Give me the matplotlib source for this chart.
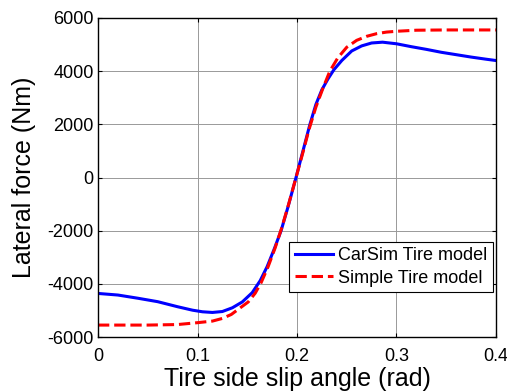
import matplotlib
matplotlib.use("Agg")
import matplotlib.pyplot as plt

# CarSim tire model
carsim_alpha = [0.000, 0.020, 0.040, 0.060, 0.080, 0.095, 0.105, 0.115, 0.125, 0.135,
                0.145, 0.155, 0.163, 0.170, 0.177, 0.184, 0.191, 0.199, 0.206, 0.213,
                0.219, 0.225, 0.231, 0.237, 0.245, 0.255, 0.265, 0.275, 0.286, 0.300,
                0.315, 0.330, 0.345, 0.360, 0.375, 0.390, 0.400]
carsim_fy = [-4360, -4420, -4540, -4670, -4860, -4990, -5050, -5075, -5040, -4900,
             -4680, -4330, -3880, -3350, -2700, -2000, -1100, 0, 1000, 2000,
             2750, 3300, 3700, 4050, 4400, 4760, 4950, 5060, 5090, 5030,
             4920, 4820, 4710, 4620, 4530, 4450, 4400]

# simple tire model
simple_alpha = [0.000, 0.050, 0.080, 0.100, 0.115, 0.125, 0.134, 0.143, 0.151, 0.158,
                0.164, 0.171, 0.178, 0.185, 0.192, 0.199, 0.206, 0.212, 0.219, 0.226,
                0.233, 0.241, 0.250, 0.260, 0.270, 0.280, 0.290, 0.300, 0.320, 0.350,
                0.400]
simple_fy = [-5550, -5550, -5530, -5460, -5400, -5300, -5150, -4900, -4680, -4350,
             -3950, -3350, -2650, -1850, -950, 0, 950, 1800, 2650, 3350,
             4000, 4500, 4900, 5160, 5310, 5410, 5470, 5500, 5540, 5550,
             5550]

xticks = [0, 0.1, 0.2, 0.3, 0.4]
xticklabels = ["0", "0.1", "0.2", "0.3", "0.4"]
yticks = [-6000, -4000, -2000, 0, 2000, 4000, 6000]

plt.rcParams['font.family'] = ['Liberation Sans', 'DejaVu Sans']
plt.rcParams['axes.unicode_minus'] = False

fig = plt.figure(figsize=(5.07, 3.91), dpi=100)
ax = fig.add_axes([0.1933, 0.138, 0.785, 0.816])

ax.plot(carsim_alpha, carsim_fy, color='#0000ff', lw=2.2, label='CarSim Tire model')
ax.plot(simple_alpha, simple_fy, color='#ff0000', lw=2.2, ls='--', label='Simple Tire model')

ax.set_xlim(0, 0.4)
ax.set_ylim(-6000, 6000)
ax.set_xticks(xticks)
ax.set_xticklabels(xticklabels)
ax.set_yticks(yticks)
ax.tick_params(direction='in', labelsize=13, top=True, right=True, length=3)
ax.tick_params(axis='x', pad=8)
ax.tick_params(axis='y', pad=3)
ax.grid(True, color='0.6', lw=0.7)
for s in ax.spines.values():
    s.set_linewidth(1.0)

ax.set_xlabel("Tire side slip angle (rad)", fontsize=18, labelpad=1)
ax.set_ylabel("Lateral force (Nm)", fontsize=18, labelpad=8)

leg = ax.legend(loc='lower right', bbox_to_anchor=(0.992, 0.141), borderaxespad=0,
                fontsize=13, fancybox=False, framealpha=1, edgecolor='black',
                handlelength=2.1, handletextpad=0.3, borderpad=0.3, labelspacing=0.3)
leg.get_frame().set_linewidth(0.8)

fig.savefig("out.png", dpi=100)
